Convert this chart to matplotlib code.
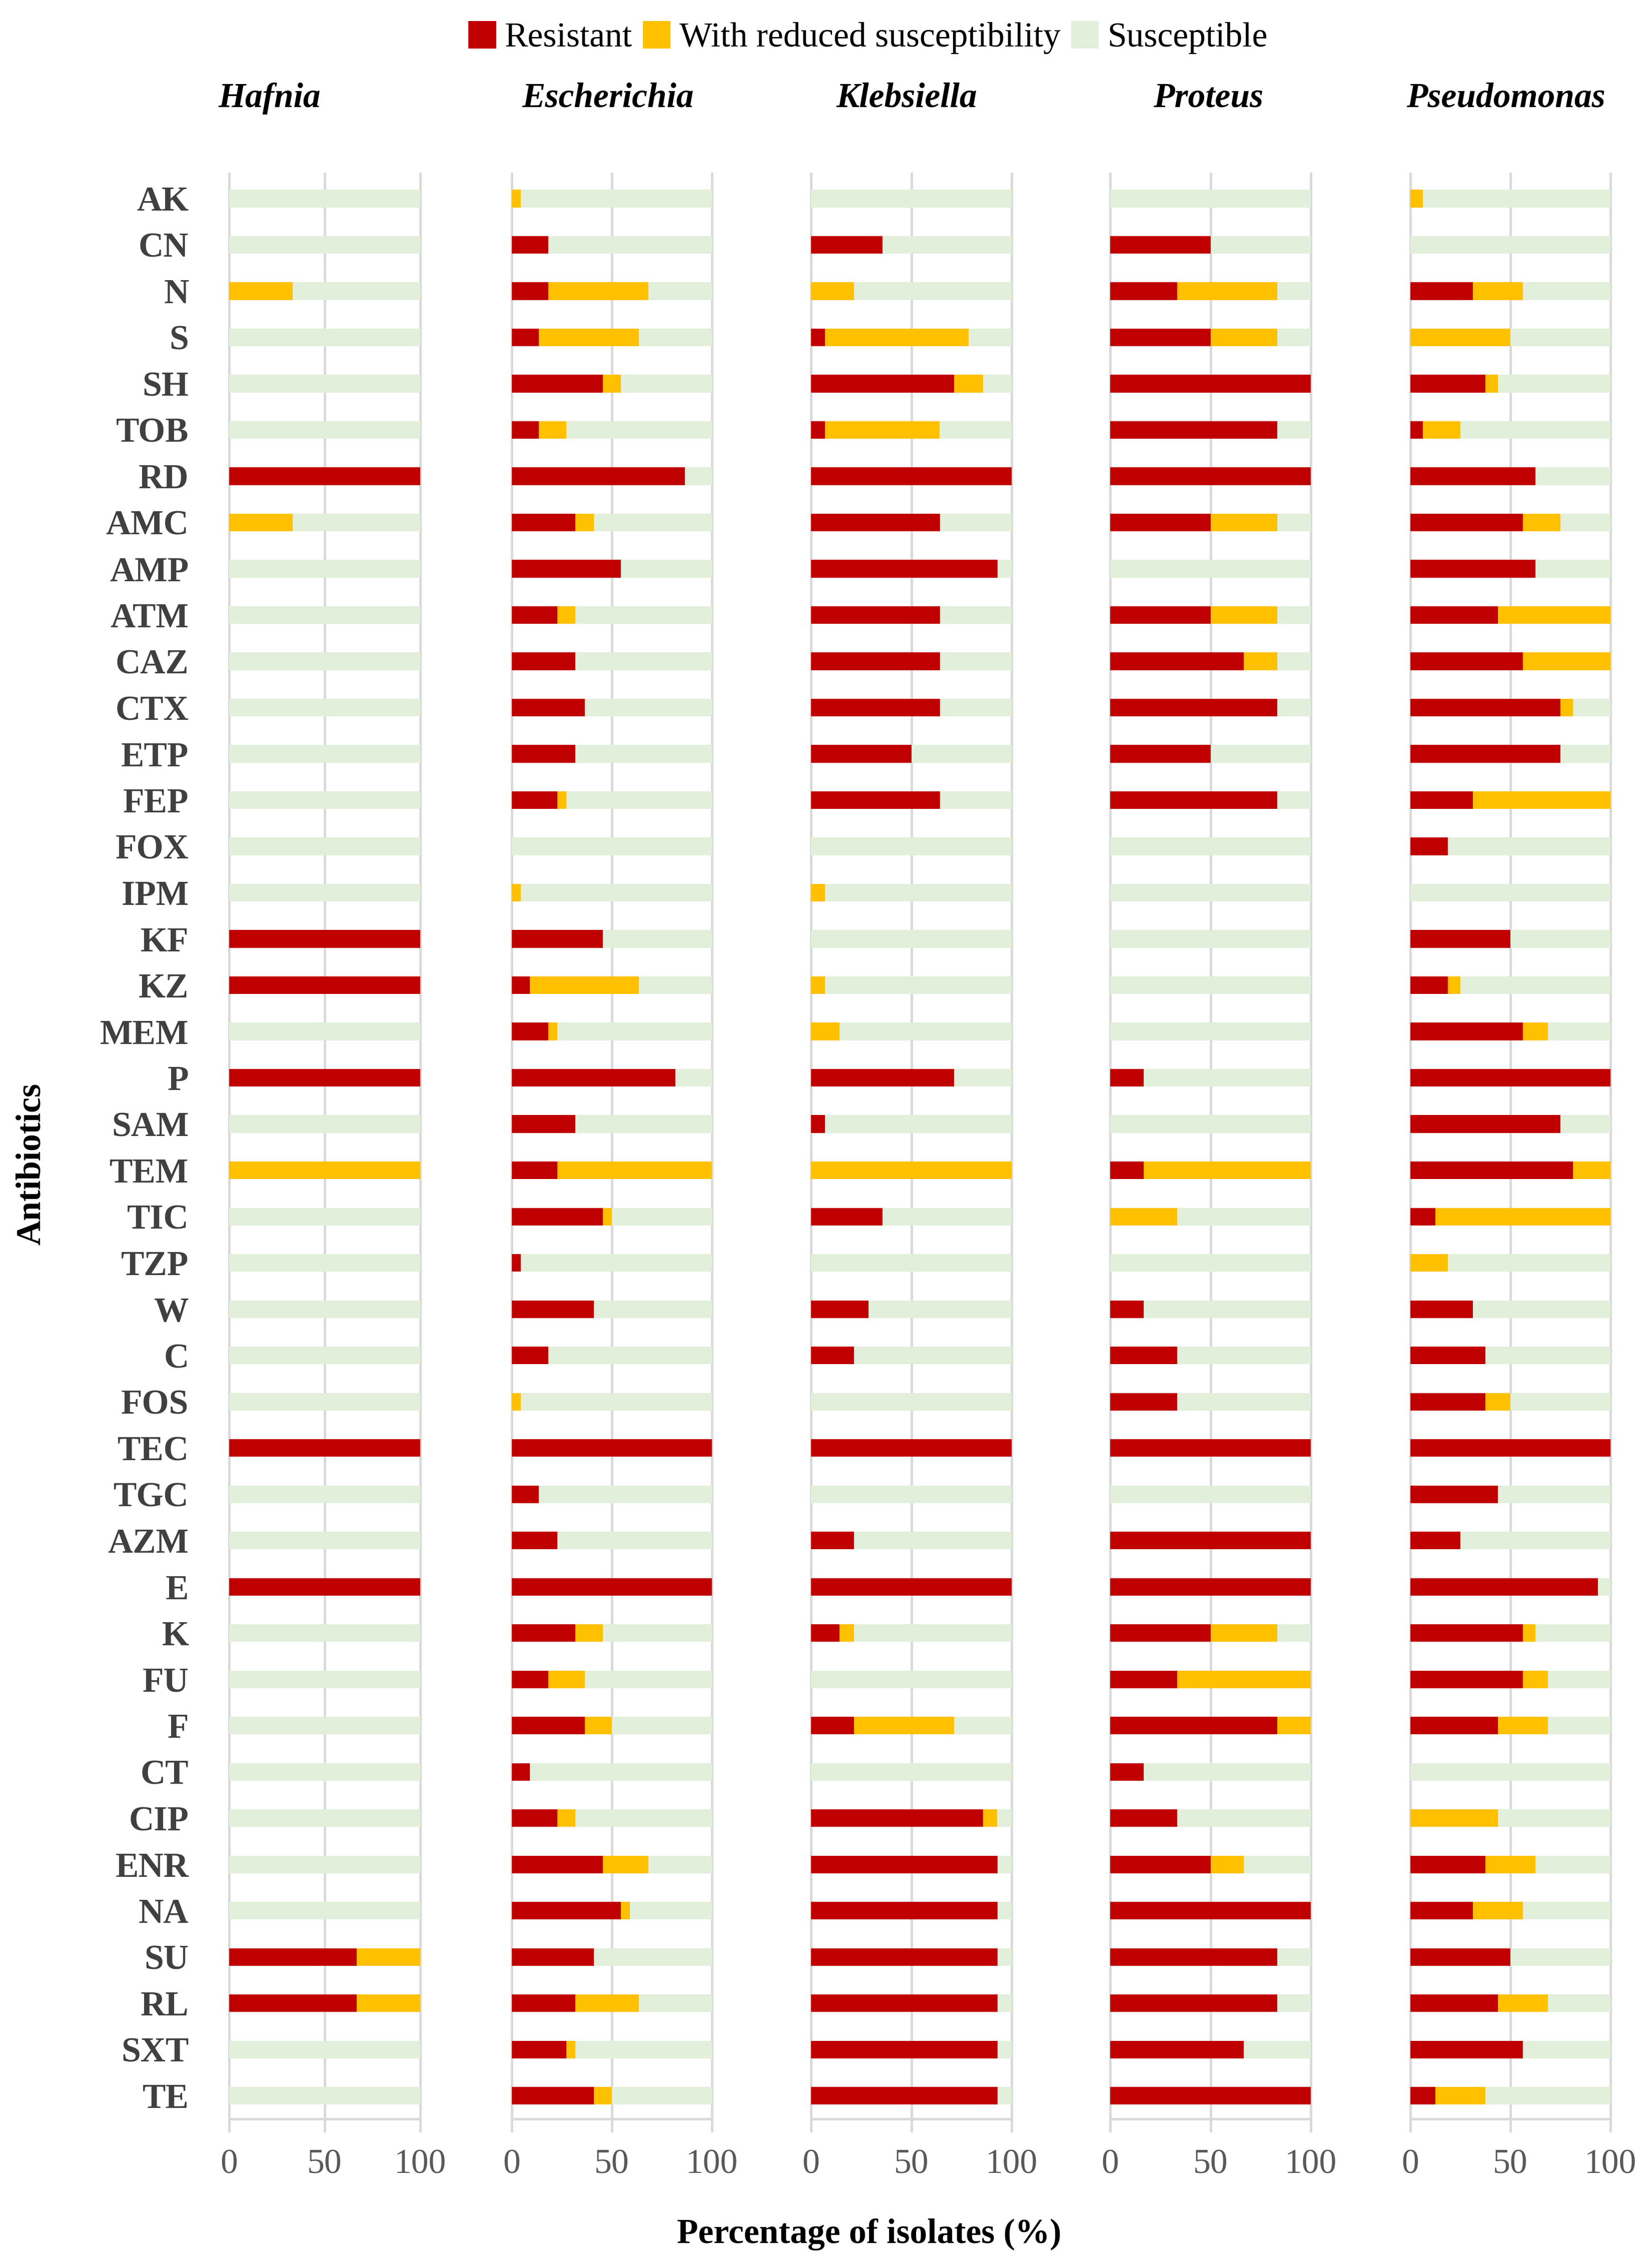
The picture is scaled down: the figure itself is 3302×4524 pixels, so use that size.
import matplotlib.pyplot as plt
import numpy as np

antibiotics = ['AK', 'CN', 'N', 'S', 'SH', 'TOB', 'RD', 'AMC', 'AMP', 'ATM', 'CAZ', 'CTX',
               'ETP', 'FEP', 'FOX', 'IPM', 'KF', 'KZ', 'MEM', 'P', 'SAM', 'TEM', 'TIC', 'TZP',
               'W', 'C', 'FOS', 'TEC', 'TGC', 'AZM', 'E', 'K', 'FU', 'F', 'CT', 'CIP', 'ENR',
               'NA', 'SU', 'RL', 'SXT', 'TE']

genera = ['Hafnia', 'Escherichia', 'Klebsiella', 'Proteus', 'Pseudomonas']

# % resistant / % with reduced susceptibility, same order as antibiotics
hafnia_r = [0, 0, 0, 0, 0, 0, 100, 0, 0, 0, 0, 0, 0, 0, 0, 0, 100, 100, 0, 100, 0,
            0, 0, 0, 0, 0, 0, 100, 0, 0, 100, 0, 0, 0, 0, 0, 0, 0, 66.7, 66.7, 0, 0]
hafnia_i = [0, 0, 33.3, 0, 0, 0, 0, 33.3, 0, 0, 0, 0, 0, 0, 0, 0, 0, 0, 0, 0, 0,
            100, 0, 0, 0, 0, 0, 0, 0, 0, 0, 0, 0, 0, 0, 0, 0, 0, 33.3, 33.3, 0, 0]

escherichia_r = [0, 18.2, 18.2, 13.6, 45.5, 13.6, 86.4, 31.8, 54.5, 22.7, 31.8, 36.4, 31.8, 22.7,
                 0, 0, 45.5, 9.1, 18.2, 81.8, 31.8, 22.7, 45.5, 4.5, 40.9, 18.2, 0, 100, 13.6,
                 22.7, 100, 31.8, 18.2, 36.4, 9.1, 22.7, 45.5, 54.5, 40.9, 31.8, 27.3, 40.9]
escherichia_i = [4.5, 0, 50, 50, 9.1, 13.6, 0, 9.1, 0, 9.1, 0, 0, 0, 4.5, 0, 4.5, 0, 54.5, 4.5,
                 0, 0, 77.3, 4.5, 0, 0, 0, 4.5, 0, 0, 0, 0, 13.6, 18.2, 13.6, 0, 9.1, 22.7, 4.5,
                 0, 31.8, 4.5, 9.1]

klebsiella_r = [0, 35.7, 0, 7.1, 71.4, 7.1, 100, 64.3, 92.9, 64.3, 64.3, 64.3, 50, 64.3, 0, 0,
                0, 0, 0, 71.4, 7.1, 0, 35.7, 0, 28.6, 21.4, 0, 100, 0, 21.4, 100, 14.3, 0, 21.4,
                0, 85.7, 92.9, 92.9, 92.9, 92.9, 92.9, 92.9]
klebsiella_i = [0, 0, 21.4, 71.4, 14.3, 57.1, 0, 0, 0, 0, 0, 0, 0, 0, 0, 7.1, 0, 7.1, 14.3, 0,
                0, 100, 0, 0, 0, 0, 0, 0, 0, 0, 0, 7.1, 0, 50, 0, 7.1, 0, 0, 0, 0, 0, 0]

proteus_r = [0, 50, 33.3, 50, 100, 83.3, 100, 50, 0, 50, 66.7, 83.3, 50, 83.3, 0, 0, 0, 0, 0,
             16.7, 0, 16.7, 0, 0, 16.7, 33.3, 33.3, 100, 0, 100, 100, 50, 33.3, 83.3, 16.7,
             33.3, 50, 100, 83.3, 83.3, 66.7, 100]
proteus_i = [0, 0, 50, 33.3, 0, 0, 0, 33.3, 0, 33.3, 16.7, 0, 0, 0, 0, 0, 0, 0, 0, 0, 0,
             83.3, 33.3, 0, 0, 0, 0, 0, 0, 0, 0, 33.3, 66.7, 16.7, 0, 0, 16.7, 0, 0, 0, 0, 0]

pseudomonas_r = [0, 0, 31.25, 0, 37.5, 6.25, 62.5, 56.25, 62.5, 43.75, 56.25, 75, 75, 31.25,
                 18.75, 0, 50, 18.75, 56.25, 100, 75, 81.25, 12.5, 0, 31.25, 37.5, 37.5, 100,
                 43.75, 25, 93.75, 56.25, 56.25, 43.75, 0, 0, 37.5, 31.25, 50, 43.75, 56.25, 12.5]
pseudomonas_i = [6.25, 0, 25, 50, 6.25, 18.75, 0, 18.75, 0, 56.25, 43.75, 6.25, 0, 68.75, 0, 0,
                 0, 6.25, 12.5, 0, 0, 18.75, 87.5, 18.75, 0, 0, 12.5, 0, 0, 0, 0, 6.25, 12.5, 25,
                 0, 43.75, 25, 25, 0, 25, 0, 25]

resistant = [hafnia_r, escherichia_r, klebsiella_r, proteus_r, pseudomonas_r]
reduced = [hafnia_i, escherichia_i, klebsiella_i, proteus_i, pseudomonas_i]

RED = '#C00000'
YEL = '#FFC000'
GRN = '#E2EFDA'
GRID = '#D9D9D9'

W, H = 3302, 4524
plt.rcParams['font.family'] = ['Liberation Serif', 'DejaVu Serif']
FS = 50

fig = plt.figure(figsize=(W / 100, H / 100), dpi=100)

# panel x-extent in pixels (0 and 100 positions) and title centres
panel_px = [(458, 840), (1023, 1423), (1621, 2022), (2219, 2620), (2819, 3219)]
title_px = [539, 1215, 1812, 2415, 3010]
top_px, bot_px = 347, 4260

y = np.arange(len(antibiotics))
axes = []
for k, name in enumerate(genera):
    x0, x1 = panel_px[k]
    ax = fig.add_axes([x0 / W, 1 - bot_px / H, (x1 - x0) / W, (bot_px - top_px) / H])
    r = np.array(resistant[k])
    i = np.array(reduced[k])
    s = 100 - r - i
    h = 0.38
    b1 = ax.barh(y, r, height=h, color=RED, label='Resistant', zorder=3)
    b2 = ax.barh(y, i, left=r, height=h, color=YEL, label='With reduced susceptibility', zorder=3)
    b3 = ax.barh(y, s, left=r + i, height=h, color=GRN, label='Susceptible', zorder=3)
    ax.set_xlim(0, 100)
    ax.set_ylim(41.76, -0.54)
    ax.set_xticks([0, 50, 100])
    ax.xaxis.grid(True, color=GRID, lw=3.5, zorder=0)
    for gl in ax.get_xgridlines():
        gl.set_clip_on(False)
    ax.axhline(41.5, color=GRID, lw=3.5, zorder=1)
    for sp in ax.spines.values():
        sp.set_visible(False)
    ax.tick_params(axis='x', length=0, pad=26, labelsize=FS, labelcolor='#595959')
    if k == 0:
        ax.set_yticks(y)
        ax.set_yticklabels(antibiotics, fontsize=FS, fontweight='bold', color='#404040')
        ax.tick_params(axis='y', length=0, pad=58)
        handles = [b1, b2, b3]
    else:
        ax.set_yticks([])
    fig.text(title_px[k] / W, 1 - 197 / H, name, fontsize=FS, fontweight='bold',
             fontstyle='italic', ha='center', va='center')
    axes.append(ax)

fig.legend(handles=handles, loc='center', bbox_to_anchor=(1735 / W, 1 - 75 / H),
           ncol=3, frameon=False, fontsize=FS, handlelength=0.8, handleheight=0.85,
           handletextpad=0.25, columnspacing=0.3, borderaxespad=0)

fig.text(63 / W, 1 - 2327 / H, 'Antibiotics', rotation=90, fontsize=FS, fontweight='bold',
         ha='center', va='center')
fig.text(1737 / W, 1 - 4467 / H, 'Percentage of isolates (%)', fontsize=FS,
         fontweight='bold', ha='center', va='center')

fig.savefig('out.png', dpi=100)
